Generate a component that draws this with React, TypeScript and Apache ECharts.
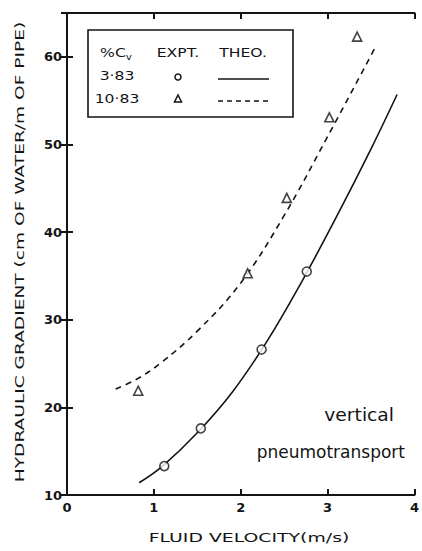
import React, { useEffect, useRef } from "react";
import * as echarts from "echarts";

// Experimental points, Cv = 3.83 %
const lowConcX = [1.12, 1.54, 2.24, 2.76];
const lowConcY = [13.3, 17.6, 26.6, 35.5];
// Experimental points, Cv = 10.83 %
const highConcX = [0.82, 2.08, 2.53, 3.02, 3.34];
const highConcY = [21.9, 35.3, 43.9, 53.1, 62.3];
// Theoretical curve, Cv = 3.83 %
const lowTheoX = [0.83, 1.1, 1.5, 1.9, 2.3, 2.7, 3.1, 3.5, 3.8];
const lowTheoY = [11.4, 13.3, 17.1, 21.7, 27.5, 34.3, 41.7, 49.5, 55.7];
// Theoretical curve, Cv = 10.83 %
const highTheoX = [0.56, 0.8, 1.07, 1.5, 2.0, 2.5, 3.0, 3.56];
const highTheoY = [22.1, 23.2, 25.0, 28.7, 34.2, 41.9, 50.9, 61.3];

const xTicks = [0, 1, 2, 3, 4];
const yTicks = [10, 20, 30, 40, 50, 60];
const legendConc = ["3·83", "10·83"];
const legendHeader = ["%C{sub|v}", "EXPT.", "THEO."];
const xName = "FLUID VELOCITY(m/s)";
const yName = "HYDRAULIC GRADIENT (cm OF WATER/m OF PIPE)";
const note = ["vertical", "pneumotransport"];

const INK = "#141414";
const FONT = "DejaVu Sans";

const zip = (xs: number[], ys: number[]) => xs.map((x, i) => [x, ys[i]]);

export default function App() {
  const ref = useRef<HTMLDivElement>(null);
  useEffect(() => {
    document.body.style.margin = "0";
    const chart = echarts.init(ref.current!, null, { renderer: "svg" });
    const axisLine = { show: true, lineStyle: { color: INK, width: 2 } };
    const tick = { show: true, inside: true, length: 6, lineStyle: { color: INK, width: 2 } };
    const label = {
      color: INK,
      fontFamily: FONT,
      fontSize: 13,
      fontWeight: "bold" as const,
    };
    chart.setOption({
      animation: false,
      backgroundColor: "#fff",
      grid: { left: 67, right: 1, top: 13, bottom: 56 },
      xAxis: [
        {
          type: "value",
          min: 0,
          max: 4,
          interval: 1,
          position: "bottom",
          axisLine,
          axisTick: tick,
          splitLine: { show: false },
          axisLabel: {
            ...label,
            margin: 6,
            formatter: (v: number) => (xTicks.includes(v) ? String(v) : ""),
          },
        },
        {
          type: "value",
          min: 0,
          max: 4,
          interval: 1,
          position: "top",
          axisLine,
          axisTick: tick,
          splitLine: { show: false },
          axisLabel: { show: false },
        },
      ],
      yAxis: [
        {
          type: "value",
          min: 10,
          max: 65,
          interval: 10,
          position: "left",
          axisLine,
          axisTick: tick,
          splitLine: { show: false },
          axisLabel: {
            ...label,
            margin: 5,
            formatter: (v: number) => (yTicks.includes(v) ? String(v) : ""),
          },
        },
        {
          type: "value",
          min: 10,
          max: 65,
          interval: 10,
          position: "right",
          axisLine,
          axisTick: tick,
          splitLine: { show: false },
          axisLabel: { show: false },
        },
      ],
      series: [
        {
          type: "line",
          data: zip(lowTheoX, lowTheoY),
          smooth: 0.4,
          showSymbol: false,
          lineStyle: { color: INK, width: 1.6 },
          z: 2,
        },
        {
          type: "line",
          data: zip(highTheoX, highTheoY),
          smooth: 0.4,
          showSymbol: false,
          lineStyle: { color: INK, width: 1.6, type: [6, 5] },
          z: 2,
        },
        {
          type: "scatter",
          data: zip(lowConcX, lowConcY),
          symbol: "circle",
          symbolSize: 9,
          itemStyle: { color: "#fff", borderColor: INK, borderWidth: 1.6 },
          z: 3,
        },
        {
          type: "scatter",
          data: zip(highConcX, highConcY),
          symbol: "triangle",
          symbolSize: 9,
          itemStyle: { color: "#fff", borderColor: INK, borderWidth: 1.6 },
          z: 3,
        },
      ],
      graphic: [
        {
          type: "text",
          x: 20,
          y: 252,
          rotation: Math.PI / 2,
          scaleX: 1.43,
          style: {
            text: yName,
            font: `13px "${FONT}"`,
            fill: INK,
            align: "center",
            verticalAlign: "middle",
          },
        },
        {
          type: "text",
          x: 249,
          y: 538,
          scaleX: 1.45,
          style: {
            text: xName,
            font: `13px "${FONT}"`,
            fill: INK,
            align: "center",
            verticalAlign: "middle",
          },
        },
        {
          type: "rect",
          shape: { x: 88, y: 30, width: 205, height: 87 },
          style: { fill: "#fff", stroke: INK, lineWidth: 1.6 },
          z: 10,
        },
        ...legendHeader.map((t, i) => ({
          type: "text",
          x: [116, 178, 243][i],
          y: 53,
          scaleX: 1.3,
          z: 11,
          style: {
            text: t,
            font: `12px "${FONT}"`,
            fill: INK,
            align: "center",
            verticalAlign: "middle",
            rich: { sub: { fontSize: 8, fontFamily: FONT, padding: [7, 0, 0, 0] } },
          },
        })),
        ...legendConc.map((t, i) => ({
          type: "text",
          x: 117,
          y: [76, 99][i],
          scaleX: 1.3,
          z: 11,
          style: {
            text: t,
            font: `12px "${FONT}"`,
            fill: INK,
            align: "center",
            verticalAlign: "middle",
          },
        })),
        {
          type: "circle",
          shape: { cx: 178, cy: 77, r: 3 },
          style: { fill: "#fff", stroke: INK, lineWidth: 1.5 },
          z: 11,
        },
        {
          type: "polygon",
          shape: { points: [[178, 95], [181.5, 102], [174.5, 102]] },
          style: { fill: "#fff", stroke: INK, lineWidth: 1.5 },
          z: 11,
        },
        {
          type: "line",
          shape: { x1: 218, y1: 79, x2: 269, y2: 79 },
          style: { stroke: INK, lineWidth: 1.6 },
          z: 11,
        },
        {
          type: "line",
          shape: { x1: 218, y1: 101, x2: 271, y2: 101 },
          style: { stroke: INK, lineWidth: 1.6, lineDash: [5, 4] },
          z: 11,
        },
        ...note.map((t, i) => ({
          type: "text",
          x: [394, 405][i],
          y: [415, 452][i],
          scaleX: [1.1, 1][i],
          style: {
            text: t,
            font: `17px "${FONT}"`,
            fill: INK,
            align: "right",
            verticalAlign: "middle",
          },
        })),
      ],
    });
    return () => chart.dispose();
  }, []);
  return (
    <div
      ref={ref}
      style={{ position: "absolute", left: 0, top: 0, width: 422, height: 551 }}
    />
  );
}
